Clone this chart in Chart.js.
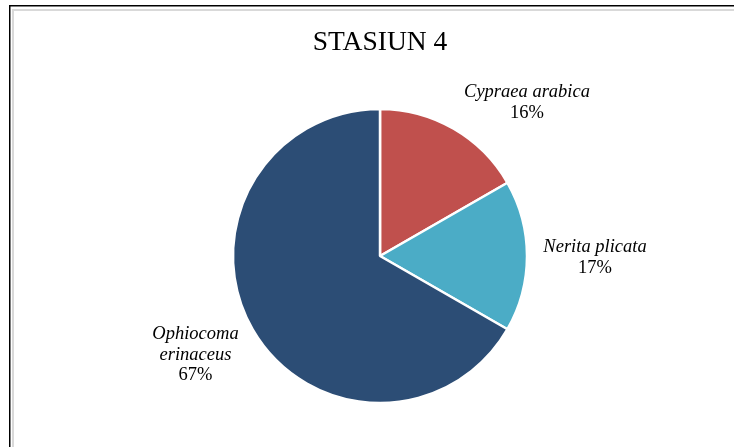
<!DOCTYPE html>
<html>
<head>
<meta charset="utf-8">
<script src="https://cdn.jsdelivr.net/npm/chart.js@4"></script>
<style>
  html, body { margin: 0; padding: 0; background: #ffffff; }
  #wrap { position: relative; width: 734px; height: 447px; }
  canvas { display: block; }
</style>
</head>
<body>
<div id="wrap"><canvas id="c" width="734" height="447"></canvas></div>
<script>
const chartTitle = "STASIUN 4";
const categories = [["Cypraea arabica"], ["Nerita plicata"], ["Ophiocoma", "erinaceus"]];
const values = [16.7, 16.6, 66.7];
const percentLabels = ["16%", "17%", "67%"];
const colors = ["#C0504D", "#4BACC6", "#2C4D75"];

// label block placement relative to the pie center (first baseline)
const labelOffsets = [[147, -159], [215, -4], [-184.5, 83.3]];

const framePlugin = {
  id: 'frame',
  beforeDraw(chart) {
    const ctx = chart.ctx;
    ctx.save();
    ctx.fillStyle = '#ffffff';
    ctx.fillRect(0, 0, chart.width, chart.height);
    ctx.fillStyle = '#d9d9d9';
    ctx.fillRect(12, 9, chart.width - 12, 2);
    ctx.fillRect(12, 9, 2, chart.height - 9);
    ctx.fillStyle = '#000000';
    ctx.fillRect(9, 5, chart.width - 9, 1.5);
    ctx.fillRect(9, 5, 1.5, chart.height - 5);
    ctx.restore();
  }
};

const labelPlugin = {
  id: 'labels',
  afterDatasetsDraw(chart) {
    const ctx = chart.ctx;
    const meta = chart.getDatasetMeta(0);
    ctx.save();
    ctx.fillStyle = '#000000';
    ctx.textAlign = 'center';
    ctx.textBaseline = 'alphabetic';
    ctx.font = '27.5px "Liberation Serif", "Times New Roman", serif';
    const c0 = meta.data[0];
    ctx.fillText(chartTitle, c0.x, 49.5);
    meta.data.forEach((arc, i) => {
      const [dx, dy] = labelOffsets[i];
      const x = arc.x + dx;
      let y = arc.y + dy;
      ctx.font = 'italic 18.5px "Liberation Serif", "Times New Roman", serif';
      categories[i].forEach(line => {
        ctx.fillText(line, x, y);
        y += 20.5;
      });
      ctx.font = '18.5px "Liberation Serif", "Times New Roman", serif';
      ctx.fillText(percentLabels[i], x, y);
    });
    ctx.restore();
  }
};

new Chart(document.getElementById('c'), {
  type: 'pie',
  data: {
    labels: categories.map(c => c.join(' ')),
    datasets: [{
      data: values,
      backgroundColor: colors,
      borderColor: '#ffffff',
      borderWidth: 2.5,
      hoverOffset: 0,
      radius: 147
    }]
  },
  options: {
    responsive: false,
    animation: false,
    events: [],
    layout: { padding: { left: 230, right: 204, top: 106, bottom: 41 } },
    plugins: {
      legend: { display: false },
      tooltip: { enabled: false },
      title: { display: false }
    }
  },
  plugins: [framePlugin, labelPlugin]
});
</script>
</body>
</html>
